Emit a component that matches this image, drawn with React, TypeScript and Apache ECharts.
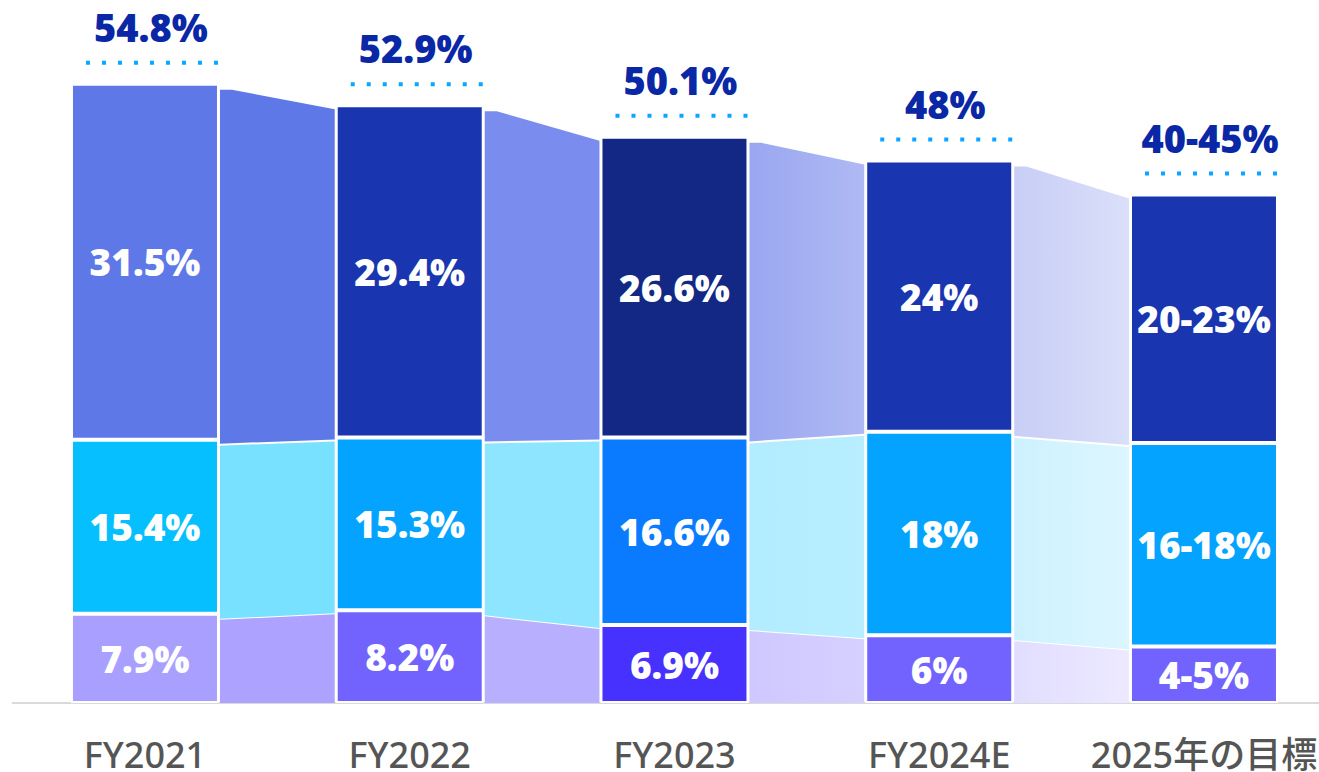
import React, { useEffect, useRef } from "react";
import * as echarts from "echarts";

const categories = ["FY2021", "FY2022", "FY2023", "FY2024E", "2025年の目標"];
const bottomValues = [7.9, 8.2, 6.9, 6, 5];
const middleValues = [15.4, 15.3, 16.6, 18, 18];
const topValues = [31.5, 29.4, 26.6, 24, 22];
const bottomLabels = ["7.9%", "8.2%", "6.9%", "6%", "4-5%"];
const middleLabels = ["15.4%", "15.3%", "16.6%", "18%", "16-18%"];
const topLabels = ["31.5%", "29.4%", "26.6%", "24%", "20-23%"];
const totalLabels = ["54.8%", "52.9%", "50.1%", "48%", "40-45%"];

const bottomColors = ["#A99FFF", "#7263FF", "#4631FF", "#7263FF", "#7263FF"];
const middleColors = ["#06BFFF", "#04A3FF", "#0A7BFF", "#04A3FF", "#04A3FF"];
const topColors = ["#5F78E8", "#1A35B0", "#122884", "#1A35B0", "#1A35B0"];

const connTop = [["#5F78E8", "#5F78E8"], ["#7A8CEE", "#7A8CEE"], ["#9AA7F0", "#AFB9F4"], ["#C8CEF5", "#DADFFA"]];
const connMid = [["#78E1FF", "#78E1FF"], ["#8EE5FF", "#8EE5FF"], ["#B2ECFF", "#B8EEFF"], ["#CDF1FF", "#DDF6FF"]];
const connBot = [["#ADA2FF", "#ADA2FF"], ["#B8AFFF", "#B8AFFF"], ["#CFC8FF", "#D6D0FF"], ["#E1DDFF", "#ECE9FF"]];

const FONT = '"Noto Sans", "Noto Sans CJK JP", sans-serif';

export default function App() {
  const ref = useRef<HTMLDivElement>(null);
  useEffect(() => {
    if (!ref.current) return;
    const chart = echarts.init(ref.current, null, { renderer: "svg" });
    const totals = categories.map((_, i) => bottomValues[i] + middleValues[i] + topValues[i]);
    const halfBar = 74;

    const grad = (c: string[]) =>
      new echarts.graphic.LinearGradient(0, 0, 1, 0, [
        { offset: 0, color: c[0] },
        { offset: 1, color: c[1] },
      ]);

    const connectorRender = (params: any, api: any) => {
      const i = params.dataIndex;
      const b0 = bottomValues[i], b1 = bottomValues[i + 1];
      const m0 = b0 + middleValues[i], m1 = b1 + middleValues[i + 1];
      const t0 = totals[i], t1 = totals[i + 1];
      const pL = api.coord([i, 0]);
      const pR = api.coord([i + 1, 0]);
      const x0 = pL[0] + halfBar + 1;
      const x1 = pR[0] - halfBar - 1;
      const yBase = pL[1];
      const yL = (v: number) => api.coord([i, v])[1] + 6;
      const yR = (v: number) => api.coord([i + 1, v])[1] + 4;
      const flat = 12;
      return {
        type: "group",
        children: [
          {
            type: "polygon",
            shape: { points: [[x0, yBase], [x0, yL(b0)], [x1, yR(b1)], [x1, yBase]] },
            style: { fill: grad(connBot[i]) },
          },
          {
            type: "polygon",
            shape: { points: [[x0, yL(b0) - 1], [x0, yL(m0)], [x1, yR(m1)], [x1, yR(b1) - 1]] },
            style: { fill: grad(connMid[i]) },
          },
          {
            type: "polygon",
            shape: { points: [[x0, yL(m0) - 2], [x0, yL(t0)], [x0 + flat, yL(t0)], [x1, yR(t1)], [x1, yR(m1) - 2]] },
            style: { fill: grad(connTop[i]) },
          },
        ],
      };
    };

    const topLabelRender = (params: any, api: any) => {
      const i = params.dataIndex;
      const p = api.coord([i, totals[i]]);
      const cx = p[0];
      const yTop = p[1];
      return {
        type: "group",
        children: [
          {
            type: "line",
            shape: { x1: cx - 59, y1: yTop - 21, x2: cx + 74, y2: yTop - 21 },
            style: { stroke: "#0AA6FF", lineWidth: 4, lineDash: [4, 12] },
          },
          {
            type: "text",
            style: {
              text: totalLabels[i],
              x: cx + 6,
              y: yTop - 57,
              align: "center",
              verticalAlign: "middle",
              fill: "#0A27A6",
              font: `900 38px ${FONT}`,
            },
          },
        ],
      };
    };

    const barLabel = (labels: string[]) => ({
      show: true,
      position: "inside",
      color: "#FFFFFF",
      fontSize: 37,
      fontWeight: 900,
      fontFamily: FONT,
      formatter: (p: any) => labels[p.dataIndex],
    });

    const barData = (vals: number[], colors: string[]) =>
      vals.map((v, i) => ({ value: v, itemStyle: { color: colors[i] } }));

    chart.setOption({
      animation: false,
      backgroundColor: "#FFFFFF",
      grid: {
        left: 12.6,
        width: 1323.75,
        top: 25,
        bottom: 69,
        containLabel: false,
        outerBoundsMode: "none",
      },
      xAxis: {
        type: "category",
        data: categories,
        axisTick: { show: false },
        axisLine: { show: true, lineStyle: { color: "#DADADA", width: 2 } },
        axisLabel: {
          color: "#555555",
          fontSize: 36,
          fontWeight: 500,
          lineHeight: 36,
          fontFamily: FONT,
          margin: 33,
          interval: 0,
          verticalAlign: "top",
          hideOverlap: false,
        },
      },
      yAxis: { type: "value", min: 0, max: 60, show: false, splitLine: { show: false } },
      series: [
        {
          type: "custom",
          renderItem: connectorRender,
          data: [0, 1, 2, 3],
          z: 1,
          silent: true,
        },
        {
          type: "bar",
          stack: "s",
          barWidth: 148,
          data: barData(bottomValues, bottomColors),
          itemStyle: { borderColor: "#FFFFFF", borderWidth: 2 },
          label: barLabel(bottomLabels),
          z: 2,
        },
        {
          type: "bar",
          stack: "s",
          barWidth: 148,
          data: barData(middleValues, middleColors),
          itemStyle: { borderColor: "#FFFFFF", borderWidth: 2 },
          label: barLabel(middleLabels),
          z: 2,
        },
        {
          type: "bar",
          stack: "s",
          barWidth: 148,
          data: barData(topValues, topColors),
          itemStyle: { borderColor: "#FFFFFF", borderWidth: 2 },
          label: barLabel(topLabels),
          z: 2,
        },
        {
          type: "custom",
          renderItem: topLabelRender,
          data: [0, 1, 2, 3, 4],
          z: 3,
          silent: true,
        },
      ],
    });
    return () => chart.dispose();
  }, []);
  return (
    <div
      ref={ref}
      style={{ position: "absolute", left: 0, top: 0, width: 1319, height: 772 }}
    />
  );
}
